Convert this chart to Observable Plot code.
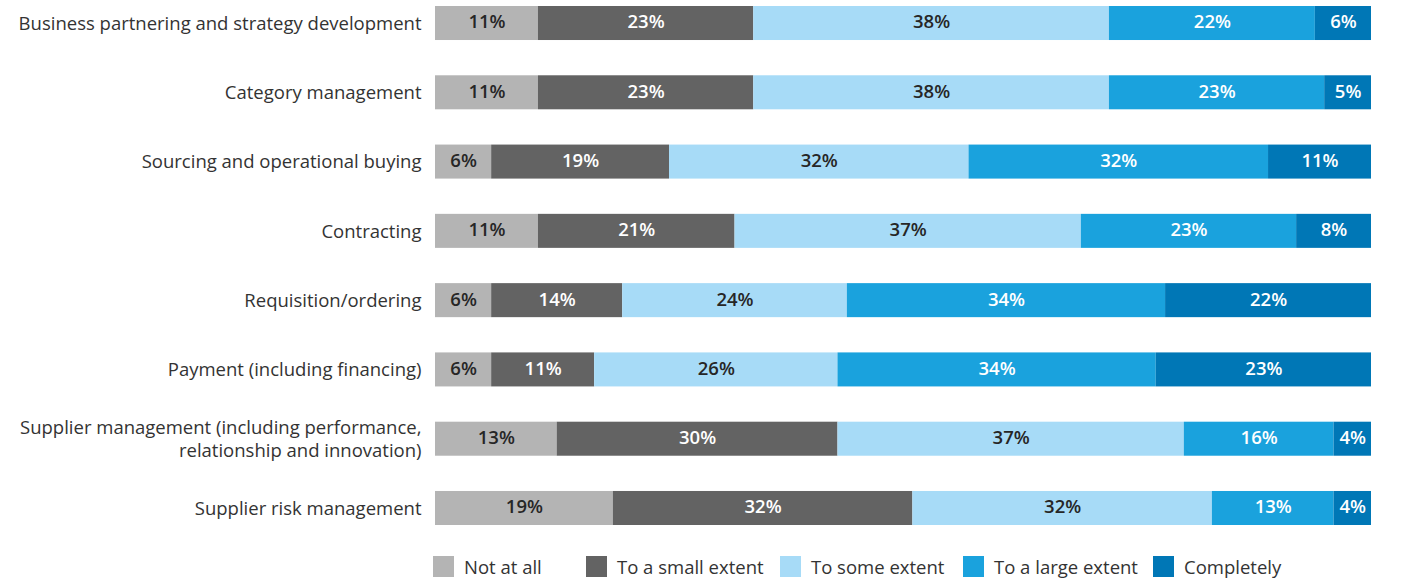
<!DOCTYPE html>
<html>
<head>
<meta charset="utf-8">
<script src="https://cdn.jsdelivr.net/npm/d3@7"></script>
<script src="https://cdn.jsdelivr.net/npm/@observablehq/plot@0.6"></script>
<style>
  html, body { margin: 0; padding: 0; background: #fff; }
  body { width: 1410px; height: 578px; overflow: hidden; font-family: "Open Sans", sans-serif; }
  #legend { position: relative; height: 46px; }
  .item { position: absolute; top: 23px; display: flex; align-items: center; font-size: 18.5px; color: #333; }
  .sw { width: 21px; height: 21px; margin-right: 10px; }
</style>
</head>
<body>
<div id="chart"></div>
<div id="legend"></div>
<script>
const categories = [
  "Business partnering and strategy development",
  "Category management",
  "Sourcing and operational buying",
  "Contracting",
  "Requisition/ordering",
  "Payment (including financing)",
  "Supplier management (including performance,\nrelationship and innovation)",
  "Supplier risk management"
];
const levels = ["Not at all", "To a small extent", "To some extent", "To a large extent", "Completely"];
const colors = ["#b4b4b4", "#636363", "#a7dbf7", "#1aa2dd", "#0077b6"];
const textColors = ["#262626", "#ffffff", "#262626", "#ffffff", "#ffffff"];

const notAtAll   = [11, 11, 6, 11, 6, 6, 13, 19];
const smallExt   = [23, 23, 19, 21, 14, 11, 30, 32];
const someExt    = [38, 38, 32, 37, 24, 26, 37, 32];
const largeExt   = [22, 23, 32, 23, 34, 34, 16, 13];
const completely = [6, 5, 11, 8, 22, 23, 4, 4];
const series = [notAtAll, smallExt, someExt, largeExt, completely];

const data = [];
categories.forEach((c, i) => {
  series.forEach((s, j) => {
    data.push({category: c, level: levels[j], value: s[i], text: textColors[j]});
  });
});

const stackOpts = {x: "value", y: "category", fill: "level", order: levels};

const chart = Plot.plot({
  width: 1410,
  height: 531,
  marginLeft: 435,
  marginRight: 39,
  marginTop: 0,
  marginBottom: 0,
  style: {fontFamily: "'Open Sans', sans-serif", fontSize: "18.5px", color: "#333"},
  x: {domain: [0, 100], axis: null},
  y: {domain: categories, paddingInner: 0.509, paddingOuter: 0.0866, round: false, label: null},
  color: {domain: levels, range: colors},
  marks: [
    Plot.barX(data, Plot.stackX(stackOpts)),
    Plot.text(data, Plot.stackX({...stackOpts, text: d => d.value + "%", fill: "text", fontSize: 18.5, fontWeight: 600, dy: -1})),
    Plot.axisY({tickSize: 0, tickPadding: 14, fontSize: 18.5, lineHeight: 1.25, label: null, fill: "#333", dy: -1})
  ]
});
document.getElementById("chart").appendChild(chart);

const legendX = [433, 586, 780, 963, 1153];
const legend = document.getElementById("legend");
levels.forEach((l, i) => {
  const it = document.createElement("div");
  it.className = "item";
  it.style.left = legendX[i] + "px";
  const sw = document.createElement("div");
  sw.className = "sw";
  sw.style.background = colors[i];
  it.appendChild(sw);
  const t = document.createElement("span");
  t.textContent = l;
  it.appendChild(t);
  legend.appendChild(it);
});
</script>
</body>
</html>
